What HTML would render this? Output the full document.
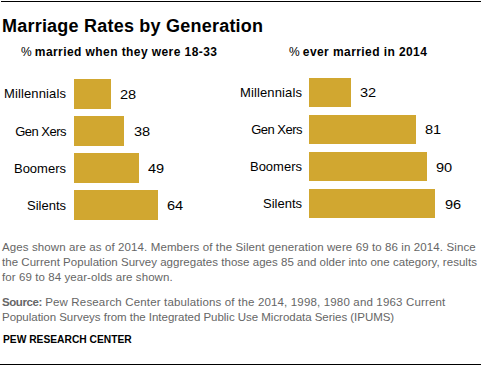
<!DOCTYPE html>
<html>
<head>
<meta charset="utf-8">
<style>
html,body{margin:0;padding:0;background:#fff;}
body{width:482px;height:366px;position:relative;overflow:hidden;font-family:"Liberation Sans",sans-serif;color:#000;}
.a{position:absolute;white-space:nowrap;}
.line{position:absolute;background:#000;height:1px;}
.title{left:2px;top:15px;font-size:18px;font-weight:bold;line-height:22px;letter-spacing:0.22px;}
.sub{font-size:12px;font-weight:bold;line-height:14px;letter-spacing:0.42px;}
.sub .p{font-weight:normal;letter-spacing:-0.6px;}
.lab{font-size:13px;line-height:15px;text-align:right;}
.val{font-size:13px;line-height:15px;transform:scaleX(1.12);transform-origin:0 0;}
.bar{position:absolute;background:#D1A730;height:29.5px;}
.note{left:2px;font-size:11.5px;line-height:15px;color:#666;letter-spacing:0.11px;}
.src b{font-weight:bold;}
.pew{left:3px;font-size:11px;font-weight:bold;line-height:13px;transform:scaleX(0.932);transform-origin:0 0;}
</style>
</head>
<body>
<div class="line" style="left:1px;top:1px;width:480px;"></div>

<div class="a title">Marriage Rates by Generation</div>

<div class="a sub" style="left:21px;top:45px;"><span class="p">%</span> married when they were 18-33</div>
<div class="a sub" style="left:289px;top:45px;"><span class="p">%</span> ever married in 2014</div>

<!-- left chart -->
<div class="a lab" style="right:415.86px;top:86px;letter-spacing:0.14px;">Millennials</div>
<div class="a lab" style="right:415.9px;top:124px;letter-spacing:-0.5px;">Gen Xers</div>
<div class="a lab" style="right:416px;top:161px;">Boomers</div>
<div class="a lab" style="right:416px;top:198px;">Silents</div>

<div class="bar" style="left:74px;top:79.4px;width:36.8px;"></div>
<div class="bar" style="left:74px;top:116.4px;width:49.9px;"></div>
<div class="bar" style="left:74px;top:153.4px;width:64.6px;"></div>
<div class="bar" style="left:74px;top:190.4px;width:84px;"></div>

<div class="a val" style="left:120.4px;top:87px;">28</div>
<div class="a val" style="left:133.7px;top:124px;">38</div>
<div class="a val" style="left:148px;top:161px;">49</div>
<div class="a val" style="left:167.2px;top:198px;">64</div>

<!-- right chart -->
<div class="a lab" style="right:179.86px;top:85px;letter-spacing:0.14px;">Millennials</div>
<div class="a lab" style="right:179.9px;top:122px;letter-spacing:-0.5px;">Gen Xers</div>
<div class="a lab" style="right:180px;top:159px;">Boomers</div>
<div class="a lab" style="right:180px;top:196px;">Silents</div>

<div class="bar" style="left:309px;top:77.9px;width:41.9px;"></div>
<div class="bar" style="left:309px;top:114.9px;width:106.8px;"></div>
<div class="bar" style="left:309px;top:151.9px;width:118.3px;"></div>
<div class="bar" style="left:309px;top:188.9px;width:126.2px;"></div>

<div class="a val" style="left:360.4px;top:84.5px;">32</div>
<div class="a val" style="left:425.1px;top:121.5px;">81</div>
<div class="a val" style="left:435.7px;top:159.5px;">90</div>
<div class="a val" style="left:445px;top:196.5px;">96</div>

<!-- notes -->
<div class="a note" style="top:240px;">Ages shown are as of 2014. Members of the Silent generation were 69 to 86 in 2014. Since</div>
<div class="a note" style="top:255px;letter-spacing:0.03px;">the Current Population Survey aggregates those ages 85 and older into one category, results</div>
<div class="a note" style="top:270px;letter-spacing:0.08px;">for 69 to 84 year-olds are shown.</div>

<div class="a note src" style="top:295px;letter-spacing:0.16px;"><b style="letter-spacing:-0.43px">Source:</b> Pew Research Center tabulations of the 2014, 1998, 1980 and 1963 Current</div>
<div class="a note" style="top:310px;letter-spacing:-0.03px;">Population Surveys from the Integrated Public Use Microdata Series (IPUMS)</div>

<div class="a pew" style="top:333px;">PEW RESEARCH CENTER</div>

<div class="line" style="left:0px;top:364px;width:481px;"></div>
</body>
</html>
